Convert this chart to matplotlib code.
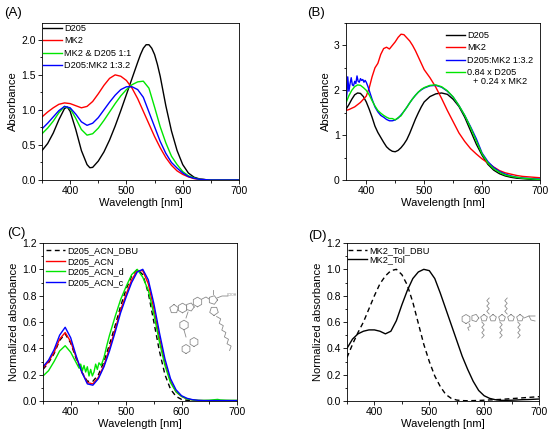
import matplotlib
matplotlib.use("Agg")
import matplotlib.pyplot as plt
from matplotlib.ticker import MultipleLocator, FormatStrFormatter
import numpy as np

plt.rcParams['font.family'] = ['Liberation Sans', 'DejaVu Sans']

# ---------------- panel A ----------------
wl_a = list(range(350, 701, 10))
wl_a_d205 = [350, 360, 370, 380, 390, 395, 400, 410, 420, 430, 435, 440, 450, 460,
             470, 480, 490, 500, 510, 520, 525, 530, 535, 540, 545, 550, 555, 560,
             570, 580, 590, 600, 610, 620, 630, 640, 650, 700]
a_d205 = [0.42, 0.52, 0.67, 0.86, 1.02, 1.04, 0.98, 0.72, 0.42, 0.22, 0.175, 0.18,
          0.27, 0.40, 0.57, 0.77, 0.99, 1.22, 1.45, 1.68, 1.79, 1.88, 1.93, 1.93,
          1.88, 1.79, 1.65, 1.48, 1.06, 0.70, 0.42, 0.22, 0.10, 0.04, 0.015, 0.005,
          0, 0]
a_mk2 = [0.90, 0.97, 1.03, 1.08, 1.10, 1.09, 1.06, 1.03, 1.05, 1.12, 1.23, 1.35,
         1.45, 1.50, 1.48, 1.42, 1.31, 1.16, 0.98, 0.80, 0.62, 0.46, 0.32, 0.21,
         0.13, 0.08, 0.045, 0.02, 0.01, 0.005, 0, 0, 0, 0, 0, 0]
a_mix11 = [0.66, 0.74, 0.84, 0.96, 1.05, 1.02, 0.88, 0.72, 0.64, 0.66, 0.74, 0.85,
           0.97, 1.09, 1.20, 1.29, 1.36, 1.40, 1.41, 1.31, 1.04, 0.76, 0.53, 0.34,
           0.22, 0.12, 0.06, 0.03, 0.01, 0.005, 0, 0, 0, 0, 0, 0]
a_mix132 = [0.73, 0.81, 0.90, 0.99, 1.05, 1.03, 0.94, 0.83, 0.78, 0.81, 0.89, 1.00,
            1.11, 1.21, 1.29, 1.33, 1.33, 1.29, 1.18, 0.97, 0.76, 0.55, 0.38, 0.25,
            0.17, 0.10, 0.05, 0.025, 0.01, 0.005, 0, 0, 0, 0, 0, 0]

# ---------------- panel B ----------------
wl_b = list(range(365, 501, 5)) + list(range(510, 701, 10))
b_d205 = [1.58, 1.68, 1.80, 1.90, 1.94, 1.93, 1.86, 1.74, 1.58, 1.40, 1.20, 1.06,
          0.95, 0.84, 0.74, 0.68, 0.64, 0.63, 0.66, 0.72, 0.80, 0.90, 1.04, 1.20,
          1.36, 1.50, 1.63, 1.74, 1.86, 1.92, 1.94, 1.91, 1.80, 1.64, 1.40, 1.10,
          0.80, 0.55, 0.35, 0.22, 0.14, 0.09, 0.06, 0.04, 0.03, 0.02, 0.01, 0.01]
b_mk2 = [1.55, 1.57, 1.60, 1.63, 1.68, 1.73, 1.80, 1.87, 2.05, 2.30, 2.50, 2.60,
         2.80, 2.93, 2.96, 2.92, 3.00, 3.08, 3.18, 3.25, 3.24, 3.17, 3.10, 3.00,
         2.88, 2.74, 2.60, 2.46, 2.28, 2.07, 1.82, 1.55, 1.30, 1.05, 0.86, 0.70,
         0.58, 0.47, 0.38, 0.29, 0.21, 0.16, 0.13, 0.10, 0.08, 0.07, 0.06, 0.05]
b_calc = [1.72, 1.88, 2.00, 2.08, 2.12, 2.11, 2.06, 2.00, 1.90, 1.77, 1.65, 1.55,
          1.49, 1.44, 1.40, 1.37, 1.37, 1.34, 1.39, 1.43, 1.53, 1.62, 1.72, 1.81,
          1.89, 1.96, 2.02, 2.06, 2.11, 2.12, 2.08, 1.99, 1.85, 1.66, 1.44, 1.17,
          0.87, 0.58, 0.38, 0.25, 0.17, 0.11, 0.08, 0.06, 0.04, 0.03, 0.02, 0.01]
wl_b_blue = [365, 367, 368, 370, 372, 374, 376, 378, 380, 382, 384, 386, 388, 390,
             392, 394, 396, 398, 400, 403, 406, 410] + list(range(415, 501, 5)) + list(range(510, 701, 10))
b_blend = [1.70, 2.00, 2.30, 1.98, 2.15, 2.28, 2.12, 2.10, 2.20, 2.15, 2.32, 2.20,
           2.18, 2.26, 2.22, 2.24, 2.18, 2.22, 2.18, 2.08, 1.96, 1.80,
           1.63, 1.52, 1.44, 1.40, 1.35, 1.32, 1.32, 1.34, 1.38, 1.45, 1.53, 1.62,
           1.72, 1.81, 1.89, 1.96, 2.01, 2.05,
           2.10, 2.11, 2.07, 1.98, 1.85, 1.66, 1.44, 1.19, 0.92, 0.60, 0.41, 0.28,
           0.19, 0.13, 0.09, 0.06, 0.045, 0.035, 0.025, 0.02]

# ---------------- panel C ----------------
wl_c = list(range(350, 701, 10))
c_dbu = [0.24, 0.29, 0.36, 0.46, 0.51, 0.44, 0.32, 0.22, 0.15, 0.15, 0.20, 0.30,
         0.43, 0.57, 0.72, 0.85, 0.95, 1.00, 0.96, 0.82, 0.60, 0.38, 0.20, 0.09,
         0.035, 0.012, 0.005, 0.002, 0, 0, 0, 0, 0, 0, 0, 0]
c_acn = [0.25, 0.30, 0.37, 0.47, 0.52, 0.45, 0.33, 0.22, 0.14, 0.13, 0.18, 0.27,
         0.40, 0.54, 0.69, 0.81, 0.92, 0.99, 0.99, 0.89, 0.70, 0.48, 0.29, 0.15,
         0.07, 0.035, 0.015, 0.008, 0.004, 0.003, 0.003, 0.003, 0.003, 0.003, 0.003, 0.003]
c_acn_c = [0.26, 0.31, 0.39, 0.50, 0.56, 0.48, 0.34, 0.22, 0.13, 0.12, 0.17, 0.26,
           0.38, 0.52, 0.67, 0.79, 0.90, 0.98, 1.00, 0.92, 0.74, 0.52, 0.32, 0.17,
           0.085, 0.04, 0.02, 0.01, 0.005, 0.003, 0.003, 0.003, 0.003, 0.003, 0.003, 0.003]
wl_c_d = [350, 360, 370, 380, 390, 400, 410, 415, 418, 421, 424, 427, 430, 433, 436,
          439, 442, 445, 448, 451, 455, 460, 465, 470, 480, 490, 500, 510, 520, 530,
          540, 550, 560, 570, 580, 590, 600, 610, 620, 630, 640, 650, 660, 665, 670,
          680, 690, 700]
c_acn_d = [0.19, 0.23, 0.30, 0.38, 0.42, 0.37, 0.29, 0.25, 0.28, 0.23, 0.27, 0.22,
           0.26, 0.19, 0.24, 0.19, 0.22, 0.28, 0.24, 0.29, 0.27, 0.33, 0.42, 0.50,
           0.64, 0.77, 0.87, 0.96, 1.00, 0.94, 0.84, 0.66, 0.45, 0.27, 0.14, 0.07,
           0.035, 0.015, 0.008, 0.005, 0.005, 0.006, 0.01, 0.012, 0.008, 0.006, 0.005, 0.005]

# ---------------- panel D ----------------
wl_d = list(range(350, 701, 10))
d_dbu = [0.33, 0.43, 0.52, 0.60, 0.70, 0.80, 0.89, 0.95, 0.99, 1.00, 0.96, 0.88,
         0.75, 0.59, 0.43, 0.30, 0.19, 0.11, 0.05, 0.02, 0.007, 0.003, 0.002, 0.003,
         0.004, 0.006, 0.008, 0.01, 0.012, 0.015, 0.018, 0.021, 0.024, 0.027, 0.03, 0.033]
d_tol = [0.40, 0.47, 0.51, 0.53, 0.54, 0.54, 0.53, 0.51, 0.53, 0.61, 0.73, 0.84,
         0.93, 0.98, 1.00, 0.99, 0.93, 0.82, 0.70, 0.58, 0.46, 0.34, 0.24, 0.15,
         0.08, 0.04, 0.02, 0.01, 0.005, 0.005, 0.006, 0.008, 0.01, 0.011, 0.013, 0.015]

GREEN = '#00e600'
LW = 1.0
FS_TICK = 7.5
FS_LAB = 8
FS_LEG = 6.6
GREY = '#8a8a8a'


def style(ax, ymaj, ymin, fmt, ylabel):
    ax.xaxis.set_major_locator(MultipleLocator(100))
    ax.xaxis.set_minor_locator(MultipleLocator(50))
    ax.yaxis.set_major_locator(MultipleLocator(ymaj))
    ax.yaxis.set_minor_locator(MultipleLocator(ymin))
    ax.yaxis.set_major_formatter(FormatStrFormatter(fmt))
    ax.tick_params(which='both', direction='out', top=False, right=False,
                   labelsize=FS_TICK, width=0.6, pad=1.5)
    ax.tick_params(which='major', length=3)
    ax.tick_params(which='minor', length=1.8)
    for s in ax.spines.values():
        s.set_linewidth(0.6)
    ax.set_xlabel('Wavelength [nm]', fontsize=FS_LAB, labelpad=1.5)
    ax.set_ylabel(ylabel, fontsize=FS_LAB, labelpad=2)


def legend(ax, x, y, spacing=0.38):
    ax.legend(loc='upper left', bbox_to_anchor=(x, y), frameon=False, fontsize=FS_LEG,
              handlelength=2.1, handletextpad=0.2, labelspacing=spacing, borderpad=0.1,
              borderaxespad=0.0)


fig = plt.figure(figsize=(5.5, 4.36), dpi=100)
W, H = 550.0, 436.0


def add_axes(l, r, t, b):
    return fig.add_axes([l / W, 1 - b / H, (r - l) / W, (b - t) / H])


axA = add_axes(42, 239, 23, 180)
axB = add_axes(346, 540, 23, 180)
axC = add_axes(43, 237, 243, 401)
axD = add_axes(347, 539, 243, 401)

# A
axA.plot(wl_a_d205, a_d205, color='black', lw=LW, label='D205')
axA.plot(wl_a, a_mk2, color='red', lw=LW, label='MK2')
axA.plot(wl_a, a_mix11, color=GREEN, lw=LW, label='MK2 & D205 1:1')
axA.plot(wl_a, a_mix132, color='blue', lw=LW, label='D205:MK2 1:3.2')
axA.set_xlim(350, 700)
axA.set_ylim(0, 2.24)
style(axA, 0.5, 0.25, '%.1f', 'Absorbance')
legend(axA, 0.0, 1.0)

# B
axB.plot(wl_b, b_d205, color='black', lw=LW, label='D205')
axB.plot(wl_b, b_mk2, color='red', lw=LW, label='MK2')
axB.plot(wl_b_blue, b_blend, color='blue', lw=LW, label='D205:MK2 1:3.2')
axB.plot(wl_b, b_calc, color=GREEN, lw=LW, label='0.84 x D205')
axB.set_xlim(365, 700)
axB.set_ylim(0, 3.5)
style(axB, 1, 0.5, '%d', 'Absorbance')
legend(axB, 0.51, 0.955)
axB.text(0.655, 0.63, '+ 0.24 x MK2', transform=axB.transAxes, fontsize=FS_LEG,
         ha='left', va='center')

# C
axC.plot(wl_c, c_dbu, color='black', lw=LW, ls=(0, (3.5, 2.5)), label='D205_ACN_DBU')
axC.plot(wl_c, c_acn, color='red', lw=LW, label='D205_ACN')
axC.plot(wl_c_d, c_acn_d, color=GREEN, lw=LW, label='D205_ACN_d')
axC.plot(wl_c, c_acn_c, color='blue', lw=LW, label='D205_ACN_c')
axC.set_xlim(350, 700)
axC.set_ylim(0, 1.2)
style(axC, 0.2, 0.1, '%.1f', 'Normalized absorbance')
legend(axC, 0.01, 0.985, spacing=0.17)

# D
axD.plot(wl_d, d_dbu, color='black', lw=LW, ls=(0, (3.5, 2.5)), label='MK2_Tol_DBU')
axD.plot(wl_d, d_tol, color='black', lw=LW, label='MK2_Tol')
axD.set_xlim(350, 700)
axD.set_ylim(0, 1.2)
style(axD, 0.2, 0.1, '%.1f', 'Normalized absorbance')
legend(axD, 0.0, 0.985, spacing=0.03)

# panel letters
for txt, x, y in [('(A)', 4, 13), ('(B)', 307, 13), ('(C)', 7, 233), ('(D)', 308, 236)]:
    fig.text(x / W, 1 - y / H, txt, fontsize=9.5, ha='left', va='center')

# rough sketches of the molecular structures (pixel coords of the figure)
ov = fig.add_axes([0, 0, 1, 1])
ov.set_xlim(0, W)
ov.set_ylim(H, 0)
ov.axis('off')


def ring(cx, cy, r, n=6, rot=90):
    ang = np.deg2rad(rot + np.arange(n + 1) * 360.0 / n)
    ov.plot(cx + r * np.cos(ang), cy + r * np.sin(ang), color=GREY, lw=0.6)


def bond(*pts):
    xs, ys = zip(*pts)
    ov.plot(xs, ys, color=GREY, lw=0.6)


def zigzag(x0, y0, x1, y1, n, amp):
    t = np.linspace(0, 1, n + 1)
    xs = x0 + (x1 - x0) * t
    ys = y0 + (y1 - y0) * t
    dx, dy = x1 - x0, y1 - y0
    L = np.hypot(dx, dy)
    nx, ny = -dy / L, dx / L
    s = amp * np.where(np.arange(n + 1) % 2 == 0, 1, -1)
    ov.plot(xs + nx * s, ys + ny * s, color=GREY, lw=0.6)


# D205 (panel C)
ring(174, 309, 4.5, n=5, rot=-90)
ring(182.5, 308, 4.8)
ring(190, 307, 4.2, n=5, rot=0)
ring(197.5, 302, 4.8)
bond((202, 299), (206, 297), (209, 299))
ring(213, 300, 4.5, n=5, rot=0)
bond((217, 298), (222, 296), (228, 296))
ov.text(227, 295, 'COOH', fontsize=2.5, color=GREY, ha='left', va='center')
ring(214, 311, 4.5, n=5, rot=90)
bond((213, 294), (213, 290))
zigzag(218, 316, 231, 350, 10, 1.5)
bond((188, 312), (186, 318))
ring(184, 325, 4.8)
bond((184, 330), (186, 337))
ring(194, 342, 4.5)
ring(186, 349, 4.5)

# MK2 (panel D)
ring(466, 319, 4.5)
ring(475, 318, 3.8, n=5, rot=0)
zigzag(470, 324, 468, 330, 3, 1.0)
for cx in [484, 493, 502, 511, 520]:
    ring(cx, 318, 3.5, n=5, rot=-90)
for x in [488, 506]:
    zigzag(x, 314, x, 298, 6, 1.2)
for x in [483, 501, 519]:
    zigzag(x, 322, x, 338, 6, 1.2)
bond((524, 318), (529, 316), (535, 316))
bond((529, 316), (531, 320), (535, 321))

fig.savefig('out.png', dpi=100)
